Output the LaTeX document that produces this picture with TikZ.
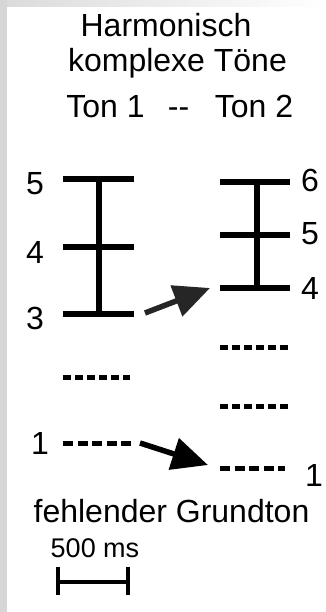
\documentclass[tikz,border=0pt]{standalone}
\usepackage{fontspec}
\setmainfont{Liberation Sans}
\usetikzlibrary{arrows.meta, positioning}

\begin{document}
\begin{tikzpicture}[
  x=1pt, y=-1pt,
  font=\fontsize{32}{37}\selectfont,
  title/.style={anchor=base, inner sep=0pt},
  num/.style={inner sep=0pt},
  bar/.style={line width=6pt},
  ghost/.style={line width=5pt, dash pattern=on 8pt off 4pt},
  fund/.style={line width=5pt, dash pattern=on 10pt off 4.5pt},
  shiftarrow/.style={line width=5.5pt, -{Triangle[length=36pt, width=32pt]}}
]
  % frame
  \fill[black!16] (0,0) rectangle (326,612);
  \shade[left color=black!14, right color=white] (7,0) rectangle (326,7);
  \fill[white] (7,7) rectangle (326,612);

  % headings
  \node[title] (head1) at (166,37) {Harmonisch};
  \node[title] (head2) at (177.5,72) {komplexe Töne};
  \node[title] (ton1) at (105.5,118) {Ton 1};
  \node[title] (sep) at (178.5,118) {-{}-};
  \node[title] (ton2) at (254,118) {Ton 2};

  % Ton 1: harmonics 3, 4, 5
  \draw[bar] (63,179) -- (134,179);
  \draw[bar] (63,247) -- (134,247);
  \draw[bar] (63,314) -- (134,314);
  \draw[bar] (99,179) -- (99,314);
  \draw[ghost] (63,377) -- (130,377);
  \draw[fund] (63,443) -- (133,443);
  \node[num] (l5) at (35,184) {5};
  \node[num] (l4) at (35,252) {4};
  \node[num] (l3) at (35,318) {3};
  \node[num] (l1) at (40,443) {1};

  % Ton 2: harmonics 4, 5, 6
  \draw[bar] (220,182) -- (290,182);
  \draw[bar] (220,235) -- (290,235);
  \draw[bar] (220,288) -- (290,288);
  \draw[bar] (257,182) -- (257,288);
  \draw[ghost] (220,347) -- (288,347);
  \draw[ghost] (220,406) -- (288,406);
  \draw[fund] (220,468) -- (285,468);
  \node[num] (r6) at (310,180) {6};
  \node[num] (r5) at (310,234) {5};
  \node[num] (r4) at (310,288) {4};
  \node[num] (r1) at (314,475) {1};

  % shifts
  \coordinate (from3) at (145,313);
  \coordinate (to4) at (210,288);
  \coordinate (from1) at (140,443);
  \coordinate (to1) at (208,465);
  \draw[shiftarrow, black!85] (from3) -- (to4);
  \draw[shiftarrow] (from1) -- (to1);

  \node[title] (missing) at (171.5,522) {fehlender Grundton};

  % time scale
  \node[title, font=\fontsize{27}{32}\selectfont] (scale) at (95,557) {500 ms};
  \draw[line width=3.5pt] (58,567) -- (58,595) (58,582) -- (128,582) (128,567) -- (128,595);
\end{tikzpicture}
\end{document}
